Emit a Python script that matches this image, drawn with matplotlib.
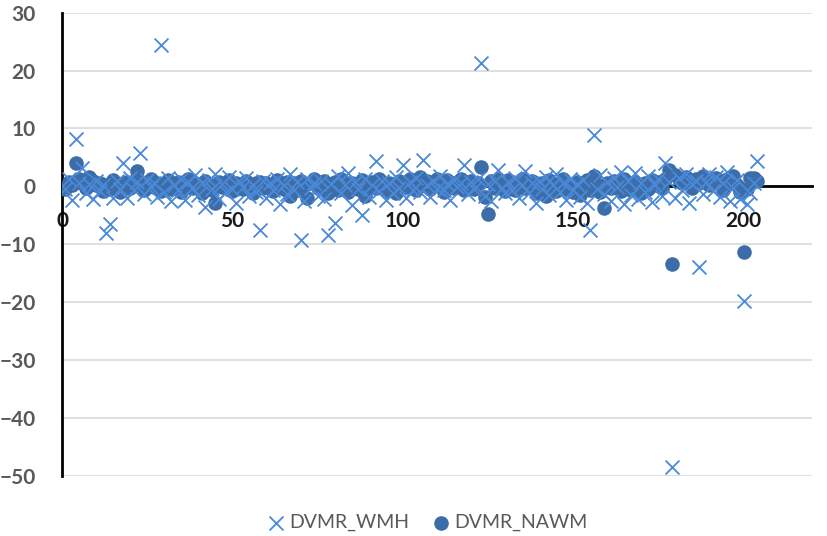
import matplotlib
matplotlib.use("Agg")
import matplotlib.pyplot as plt
import numpy as np

# DVMR values per subject (index 1..204)
dvmr_wmh = [
    -0.5, 1.2, -2.4, 8.1, 0.6, 3.2, -1.1, 0.4, -2.2, 1.0,
    -0.8, 0.3, -8.1, -6.5, -2.0, 0.9, -0.4, 4.0, -2.1, 1.5,
    -0.6, 0.7, 5.7, -1.3, 1.1, -0.2, 0.5, -1.8, 24.4, -0.9,
    1.4, -2.6, 0.2, -0.7, 1.3, -2.4, 0.8, -0.3, 2.0, -1.5,
    0.6, -3.5, 1.1, -0.5, 2.1, -2.2, 0.4, -1.0, 1.6, -0.4,
    -2.8, 0.9, -0.2, 1.5, -1.7, 0.3, -0.9, -7.5, 1.0, -2.0,
    0.5, -0.6, 1.2, -3.0, 0.2, -1.3, 2.2, -0.7, 0.8, -9.2,
    -2.5, 1.3, -0.3, 0.6, -1.6, 1.0, -2.2, -8.4, 0.4, -6.4,
    1.8, -1.1, 0.3, 2.3, -3.2, 0.7, -0.5, -5.0, 1.2, -1.8,
    0.2, 4.4, -0.8, 1.0, -2.4, 0.5, -1.2, 1.6, -0.3, 3.6,
    -2.1, 0.8, -0.6, 1.4, -1.0, 4.6, 0.3, -1.9, 0.9, -0.4,
    1.7, -0.7, 0.4, -2.3, 1.1, -0.2, 0.6, 3.6, -1.4, 0.7,
    -0.5, 1.2, 21.3, -1.6, 0.4, -2.5, 1.0, 2.9, -0.3, -1.2,
    0.8, -0.6, 1.5, -2.0, 0.3, 2.6, -1.1, 0.5, -2.8, 0.9,
    -0.4, 1.6, -1.5, 0.2, 2.2, -0.9, 0.6, -2.4, 1.3, -0.7,
    0.4, -1.8, 1.1, -2.9, -7.6, 8.8, -0.5, 2.0, -1.3, 0.7,
    -2.6, 1.4, -0.2, 2.5, -3.0, 0.9, -1.5, 2.3, -2.2, 0.6,
    -1.0, 1.8, -2.7, 0.3, 1.2, -1.7, 4.0, 0.8, -48.5, -2.0,
    1.5, -0.6, 2.2, -2.9, 0.4, 1.0, -13.9, -1.4, 0.7, 2.1,
    -0.8, 1.6, -1.9, 0.5, 2.4, -2.6, -0.3, 1.1, -2.2, -19.8,
    -3.1, -1.2, 0.6, 4.3,
]

dvmr_nawm = [
    -0.5, 0.8, 0.3, 4.0, 1.2, 0.5, -0.3, 1.6, 0.9, 0.2,
    0.6, -0.8, 0.3, -0.5, 1.1, 0.2, -0.9, 0.5, 0.8, -0.3,
    0.9, 2.6, 0.3, -0.6, 0.5, 1.2, -0.2, 0.6, -0.8, 0.3,
    1.1, -0.5, 0.2, 0.8, -0.9, 0.5, 1.3, -0.3, 0.6, 0.0,
    -1.1, 0.9, 0.3, -0.6, -2.9, 0.8, -0.2, 0.5, 1.1, -0.8,
    0.6, 0.2, -0.5, 0.9, 0.3, -1.2, 0.5, 0.8, -0.3, 0.6,
    0.2, -0.8, 1.1, 0.3, -0.5, 0.8, -1.6, 0.5, -0.6, 0.9,
    0.3, -2.1, 0.6, 1.2, -0.3, 0.5, 0.9, -1.1, 0.2, 0.8,
    -0.6, 1.3, 0.3, -0.9, 0.6, 0.2, -0.5, 1.1, -1.7, 0.5,
    0.8, -0.3, 1.2, 0.2, -0.8, 0.6, 0.3, -1.1, 0.9, 0.5,
    -0.2, 1.3, 0.6, -0.6, 1.6, 0.3, 0.9, -0.5, 0.8, 1.2,
    0.2, -0.9, 1.1, 0.5, -0.3, 0.8, 1.3, -0.6, 0.3, 0.9,
    -0.5, 0.6, 3.3, -1.9, -4.8, 0.9, -0.3, 1.2, 0.5, -0.8,
    1.1, 0.2, -0.6, 0.8, 1.3, -0.3, 0.5, 0.9, -1.2, 0.3,
    0.6, -1.7, 1.1, 0.2, -0.8, 0.5, 1.2, -0.5, 0.3, -0.9,
    0.8, -1.5, 0.5, 1.1, -0.6, 1.8, 0.3, -0.9, -3.7, 0.6,
    -0.3, 0.9, 0.2, -0.8, 1.2, 0.5, -0.6, 0.8, 0.3, -1.1,
    0.6, -0.5, 1.1, 0.2, 0.8, -0.3, 1.3, 2.8, -13.5, 2.0,
    1.2, 0.5, 1.6, 0.9, -0.3, 1.3, 0.6, 1.7, 0.8, 0.3,
    1.1, 1.5, 0.5, -0.6, 1.2, 0.8, 1.7, 0.3, -0.9, -11.4,
    -0.5, 1.4, 1.5, 1.0,
]

subject = np.arange(1, len(dvmr_wmh) + 1)

plt.rcParams['font.family'] = ['Lato', 'DejaVu Sans']

fig = plt.figure(figsize=(8.27, 5.36), dpi=100)
ax = fig.add_axes([0.075, 0.1125, 0.9065, 0.8638])

ax.scatter(subject, dvmr_nawm, marker='o', s=110, color='#3d6da8',
           label='DVMR_NAWM', zorder=3, linewidths=0)
ax.scatter(subject, dvmr_wmh, marker='x', s=100, color='#4a88d8',
           linewidths=1.3, label='DVMR_WMH', zorder=4)

ax.set_xlim(0, 220)
ax.set_ylim(-50, 30)
ax.set_xticks([0, 50, 100, 150, 200])
ax.set_yticks(range(-50, 31, 10))

ax.grid(axis='y', color='#d9d9d9', linewidth=1.2, zorder=0)
ax.set_axisbelow(True)

for s in ['top', 'right']:
    ax.spines[s].set_visible(False)
ax.spines['bottom'].set_position(('data', 0))
ax.spines['bottom'].set_linewidth(2)
ax.spines['bottom'].set_zorder(2)
ax.spines['left'].set_linewidth(2)
ax.spines['left'].set_zorder(2)

ax.tick_params(axis='both', length=0)
ax.tick_params(axis='y', pad=19, labelsize=15, labelcolor='#595959')
ax.tick_params(axis='x', pad=18, labelsize=15, labelcolor='#1a1a1a')
for lab in ax.get_xticklabels() + ax.get_yticklabels():
    lab.set_fontweight('bold')

handles, labels = ax.get_legend_handles_labels()
leg = fig.legend(handles[::-1], labels[::-1], loc='center', bbox_to_anchor=(0.515, 0.025),
                 ncol=2, frameon=False, fontsize=14, handletextpad=0.1,
                 columnspacing=1.0, handlelength=1.2)
for t in leg.get_texts():
    t.set_color('#595959')

fig.savefig('out.png', dpi=100)
